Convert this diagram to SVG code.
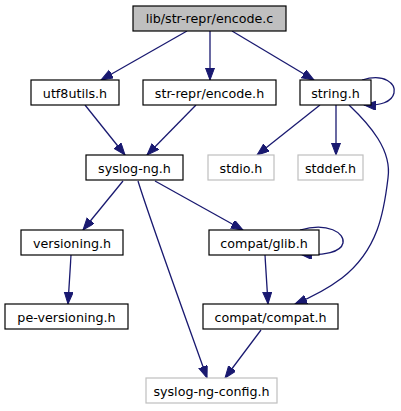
<svg xmlns="http://www.w3.org/2000/svg" width="401" height="411" viewBox="0 0 401 411">
<style>
.n rect{fill:#ffffff;stroke:#000000;stroke-width:1.2}
.n.g rect{stroke:#bfbfbf}
.n.top rect{fill:#bfbfbf}
.n text{font-family:"DejaVu Sans",sans-serif;font-size:12.7px;text-anchor:middle;fill:#000000}
.e path{fill:none;stroke:#191970;stroke-width:1.3;marker-end:url(#ah)}
</style>
<defs>
<marker id="ah" markerUnits="userSpaceOnUse" markerWidth="13" markerHeight="10" refX="12" refY="4.5" orient="auto">
<path d="M0,0 L12,4.5 L0,9 z" fill="#191970" stroke="#191970" stroke-width="1"/>
</marker>
</defs>
<rect width="401" height="411" fill="#ffffff"/>
<g id="edges" class="e">
<path d="M187,31 L101,80"/>
<path d="M210,31 L210,80"/>
<path d="M232,31 L314,80"/>
<path d="M85,105 L125,155"/>
<path d="M196,105 L147,155"/>
<path d="M362,80 C385,73 396,84 394,93 C392,102 380,106 364,105"/>
<path d="M320,105 L257,155"/>
<path d="M336,105 L336,155"/>
<path d="M349,105 C370,125 392,150 388,178 C384,212 378,250 342,278 C326,290 312,297 295,304"/>
<path d="M123,181 L83,230"/>
<path d="M155,181 L243,230"/>
<path d="M138,181 C150,220 190,330 207,378"/>
<path d="M300,230 C328,222 345,233 343,243 C341,252 325,256 300,254"/>
<path d="M265,255 L268,304"/>
<path d="M71,255 L68,304"/>
<path d="M261,330 L225,378"/>
</g>
<g id="node_encode_c" class="n top"><rect x="133" y="6" width="153" height="25"/><text x="209.5" y="23">lib/str-repr/encode.c</text></g>
<g id="node_utf8utils" class="n"><rect x="31" y="80" width="88" height="25"/><text x="75" y="97.5">utf8utils.h</text></g>
<g id="node_encode_h" class="n"><rect x="143" y="80" width="133" height="25"/><text x="209.5" y="97.5">str-repr/encode.h</text></g>
<g id="node_string" class="n"><rect x="300" y="80" width="71" height="25"/><text x="335.5" y="97.5">string.h</text></g>
<g id="node_syslogng" class="n"><rect x="86" y="155" width="97" height="25"/><text x="134.5" y="172.5">syslog-ng.h</text></g>
<g id="node_stdio" class="n g"><rect x="208" y="155" width="66" height="25"/><text x="241" y="172.5">stdio.h</text></g>
<g id="node_stddef" class="n g"><rect x="298" y="155" width="65" height="25"/><text x="330.5" y="172.5">stddef.h</text></g>
<g id="node_versioning" class="n"><rect x="21" y="230" width="102" height="25"/><text x="72" y="247.5">versioning.h</text></g>
<g id="node_glib" class="n"><rect x="209" y="230" width="110" height="25"/><text x="264" y="247.5">compat/glib.h</text></g>
<g id="node_peversioning" class="n"><rect x="5" y="304" width="123" height="25"/><text x="66.5" y="321.5">pe-versioning.h</text></g>
<g id="node_compat" class="n"><rect x="203" y="304" width="135" height="25"/><text x="270.5" y="321.5">compat/compat.h</text></g>
<g id="node_config" class="n g"><rect x="146" y="378" width="131" height="25"/><text x="211.5" y="395.5">syslog-ng-config.h</text></g>
</svg>
